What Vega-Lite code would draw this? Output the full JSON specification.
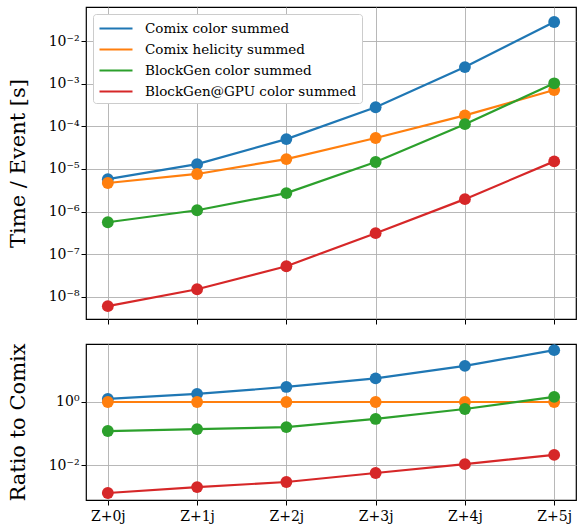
{
  "$schema": "https://vega.github.io/schema/vega-lite/v6.json",
  "padding": {"left": 6, "top": 6, "right": 0, "bottom": 3},
  "spacing": 16,
  "config": {
    "font": "DejaVu Serif",
    "view": {"stroke": "black", "strokeWidth": 1.2},
    "axis": {
      "grid": true, "gridColor": "#b0b0b0", "gridWidth": 0.9,
      "domain": false, "tickColor": "black", "tickSize": 5, "tickWidth": 1,
      "labelFont": "DejaVu Serif", "labelFontSize": 14, "labelColor": "black",
      "titleFont": "DejaVu Serif", "titleFontSize": 21, "titleFontWeight": "normal", "titleColor": "black"
    },
    "legend": {"labelFont": "DejaVu Serif", "labelFontSize": 13.5, "labelColor": "black", "labelLimit": 400}
  },
  "data": {"values": [
    {"nj": "Z+0j", "series": "Comix color summed", "time": 5.75e-6, "ratio": 1.25},
    {"nj": "Z+1j", "series": "Comix color summed", "time": 1.29e-5, "ratio": 1.8},
    {"nj": "Z+2j", "series": "Comix color summed", "time": 5.0e-5, "ratio": 3.0},
    {"nj": "Z+3j", "series": "Comix color summed", "time": 2.8e-4, "ratio": 5.6},
    {"nj": "Z+4j", "series": "Comix color summed", "time": 2.45e-3, "ratio": 14},
    {"nj": "Z+5j", "series": "Comix color summed", "time": 2.8e-2, "ratio": 44},
    {"nj": "Z+0j", "series": "Comix helicity summed", "time": 4.66e-6, "ratio": 1},
    {"nj": "Z+1j", "series": "Comix helicity summed", "time": 7.6e-6, "ratio": 1},
    {"nj": "Z+2j", "series": "Comix helicity summed", "time": 1.7e-5, "ratio": 1},
    {"nj": "Z+3j", "series": "Comix helicity summed", "time": 5.3e-5, "ratio": 1},
    {"nj": "Z+4j", "series": "Comix helicity summed", "time": 1.8e-4, "ratio": 1},
    {"nj": "Z+5j", "series": "Comix helicity summed", "time": 7.1e-4, "ratio": 1},
    {"nj": "Z+0j", "series": "BlockGen color summed", "time": 5.6e-7, "ratio": 0.12},
    {"nj": "Z+1j", "series": "BlockGen color summed", "time": 1.07e-6, "ratio": 0.138},
    {"nj": "Z+2j", "series": "BlockGen color summed", "time": 2.7e-6, "ratio": 0.16},
    {"nj": "Z+3j", "series": "BlockGen color summed", "time": 1.45e-5, "ratio": 0.29},
    {"nj": "Z+4j", "series": "BlockGen color summed", "time": 1.12e-4, "ratio": 0.6},
    {"nj": "Z+5j", "series": "BlockGen color summed", "time": 1.02e-3, "ratio": 1.45},
    {"nj": "Z+0j", "series": "BlockGen@GPU color summed", "time": 6.0e-9, "ratio": 0.0013},
    {"nj": "Z+1j", "series": "BlockGen@GPU color summed", "time": 1.5e-8, "ratio": 0.002},
    {"nj": "Z+2j", "series": "BlockGen@GPU color summed", "time": 5.2e-8, "ratio": 0.0029},
    {"nj": "Z+3j", "series": "BlockGen@GPU color summed", "time": 3.1e-7, "ratio": 0.0056},
    {"nj": "Z+4j", "series": "BlockGen@GPU color summed", "time": 1.95e-6, "ratio": 0.0107},
    {"nj": "Z+5j", "series": "BlockGen@GPU color summed", "time": 1.5e-5, "ratio": 0.021}
  ]},
  "resolve": {"legend": {"color": "independent"}},
  "vconcat": [
    {
      "width": 490,
      "height": 312,
      "encoding": {
        "x": {"field": "nj", "type": "ordinal", "scale": {"type": "point", "padding": 0.2444},
              "axis": {"labels": false, "title": null}},
        "y": {"field": "time", "type": "quantitative",
              "scale": {"type": "log", "domain": [3.0e-9, 0.063], "nice": false},
              "axis": {"title": "Time / Event [s]", "titlePadding": 20,
                       "values": [1e-8, 1e-7, 1e-6, 1e-5, 1e-4, 1e-3, 1e-2],
                       "labelExpr": "'10' + '⁻' + substring('⁰¹²³⁴⁵⁶⁷⁸⁹', abs(round(log(datum.value)/LN10)), abs(round(log(datum.value)/LN10))+1)"}},
        "color": {"field": "series", "type": "nominal",
                  "scale": {"domain": ["Comix color summed", "Comix helicity summed", "BlockGen color summed", "BlockGen@GPU color summed"],
                            "range": ["#1f77b4", "#ff7f0e", "#2ca02c", "#d62728"]},
                  "legend": {"title": null, "orient": "top-left", "offset": 7, "symbolType": "M-1,0H3.125",
                             "symbolStrokeWidth": 2.2, "symbolSize": 256, "labelOffset": 28, "rowPadding": 5,
                             "padding": 5, "strokeColor": "#cccccc", "fillColor": "white", "cornerRadius": 3}}
      },
      "layer": [
        {"mark": {"type": "line", "strokeWidth": 2.2}},
        {"mark": {"type": "circle", "size": 140, "opacity": 1}}
      ]
    },
    {
      "width": 490,
      "height": 156,
      "encoding": {
        "x": {"field": "nj", "type": "ordinal", "scale": {"type": "point", "padding": 0.2444},
              "axis": {"title": null, "labelAngle": 0, "labelPadding": 4}},
        "y": {"field": "ratio", "type": "quantitative",
              "scale": {"type": "log", "domain": [0.00078, 69], "nice": false},
              "axis": {"title": "Ratio to Comix", "titlePadding": 20,
                       "values": [0.01, 1],
                       "labelExpr": "datum.value == 1 ? '10⁰' : '10⁻²'"}},
        "color": {"field": "series", "type": "nominal",
                  "scale": {"domain": ["Comix color summed", "Comix helicity summed", "BlockGen color summed", "BlockGen@GPU color summed"],
                            "range": ["#1f77b4", "#ff7f0e", "#2ca02c", "#d62728"]},
                  "legend": null}
      },
      "layer": [
        {"mark": {"type": "line", "strokeWidth": 2.2}},
        {"mark": {"type": "circle", "size": 140, "opacity": 1}}
      ]
    }
  ]
}
